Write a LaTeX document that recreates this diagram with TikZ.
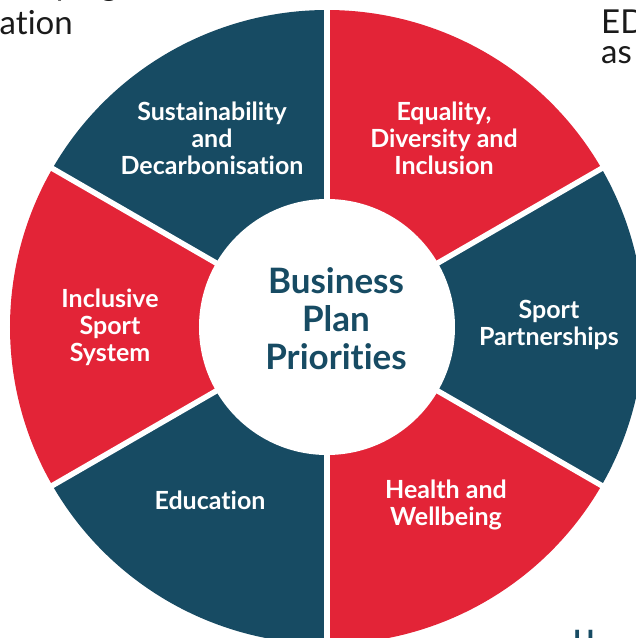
\documentclass[tikz,border=0pt]{standalone}
\usepackage{fontspec}
\setmainfont{Lato}[Ligatures=NoCommon]
\usepackage{tikz}

\definecolor{bpblue}{HTML}{174B63}
\definecolor{bpred}{HTML}{E32437}
\definecolor{bptext}{HTML}{1A1A1A}

\tikzset{
  seglabel/.style={align=center, text=white, inner sep=0pt,
    font=\fontsize{25}{27}\selectfont\bfseries},
  titlelabel/.style={align=center, text=bpblue, inner sep=0pt,
    font=\fontsize{35}{38}\selectfont\bfseries},
  sidetext/.style={text=bptext, inner sep=0pt,
    font=\fontsize{33}{30}\selectfont},
  gap/.style={white, line width=5.5pt}
}

\begin{document}
\begin{tikzpicture}[x=1pt, y=1pt]
    \useasboundingbox (-327pt, -311pt) rectangle (309pt, 327pt);
    \clip (-327pt, -311pt) rectangle (309pt, 327pt);

    % six sectors of the wheel
    \fill [bpred]  (0, 0) -- (30:317pt)  arc (30:90:317pt)   -- cycle;
    \fill [bpblue] (0, 0) -- (90:317pt)  arc (90:150:317pt)  -- cycle;
    \fill [bpred]  (0, 0) -- (150:317pt) arc (150:210:317pt) -- cycle;
    \fill [bpblue] (0, 0) -- (210:317pt) arc (210:270:317pt) -- cycle;
    \fill [bpred]  (0, 0) -- (270:317pt) arc (270:330:317pt) -- cycle;
    \fill [bpblue] (0, 0) -- (330:317pt) arc (330:390:317pt) -- cycle;

    \coordinate (hub) at (0, 0);
    \foreach \a in {30, 90, 150, 210, 270, 330}
        \draw [gap] (hub) -- (\a:330pt);
    \fill [white] (hub) circle (128pt);

    \node [titlelabel] (title) at (9, 8) {Business\\Plan\\Priorities};

    \node [seglabel] (sust)   at (-115, 189) {Sustainability\\and\\Decarbonisation};
    \node [seglabel] (edi)    at (117, 189)  {Equality,\\Diversity and\\Inclusion};
    \node [seglabel] (sport)  at (222, 2)    {Sport\\Partnerships};
    \node [seglabel] (health) at (119, -178) {Health and\\Wellbeing};
    \node [seglabel] (educ)   at (-117, -173) {Education};
    \node [seglabel] (incl)   at (-217, 0)   {Inclusive\\Sport\\System};

    % text cut off at the edges
    \node [sidetext, anchor=base east] (ping)  at (-209, 331) {ping};
    \node [sidetext, anchor=base east] (ation) at (-254, 292) {ation};
    \node [sidetext, anchor=base west] (ed)    at (274, 294)  {ED};
    \node [sidetext, anchor=base west] (as)    at (274, 264)  {as};
    \node [sidetext, anchor=base west, text=bpblue, font=\fontsize{28}{30}\selectfont\bfseries]
        (h) at (246, -323) {H};
\end{tikzpicture}
\end{document}
